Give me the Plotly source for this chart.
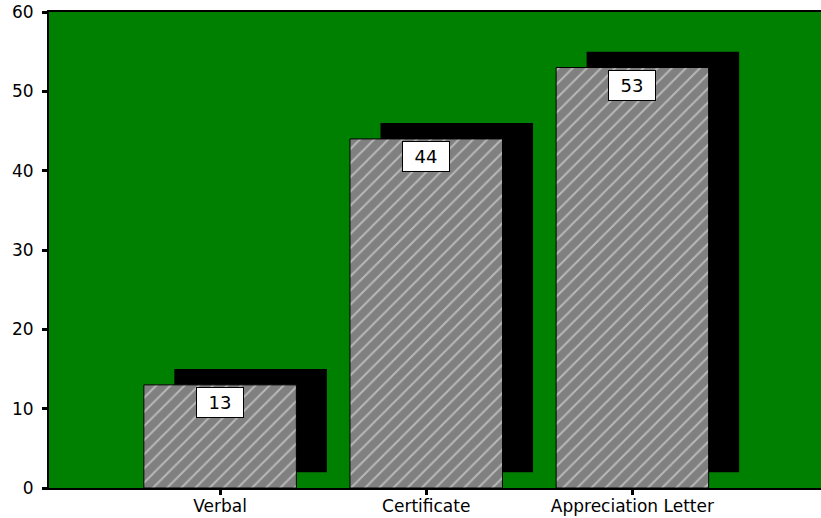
import plotly.graph_objects as go

# Award types and their counts
categories = ["Verbal", "Certificate", "Appreciation Letter"]
counts = [13, 44, 53]
y_ticks = [0, 10, 20, 30, 40, 50, 60]

positions = list(range(len(categories)))
bar_width = 0.74
shadow_dx = 0.148   # drop shadow shifted right
shadow_base = 2     # and lifted up by this many units

FONT = "DejaVu Sans, Verdana, sans-serif"

fig = go.Figure()

# Drop shadow behind each bar
fig.add_trace(go.Bar(
    x=[p + shadow_dx for p in positions],
    y=counts,
    base=[shadow_base] * len(counts),
    width=bar_width,
    marker=dict(color="black", line=dict(width=0)),
    hoverinfo="skip",
    showlegend=False,
))

# Hatched bars
fig.add_trace(go.Bar(
    x=positions,
    y=counts,
    width=bar_width,
    marker=dict(
        color="#808080",
        line=dict(color="black", width=1),
        pattern=dict(shape="/", fgcolor="#f2f2f2", bgcolor="#808080",
                     size=10, solidity=0.2, fillmode="overlay"),
    ),
    hoverinfo="skip",
    showlegend=False,
))

# Value labels in white boxes just under each bar top
for p, v in zip(positions, counts):
    fig.add_annotation(
        x=p, y=v, text=str(v), showarrow=False,
        yanchor="top", yshift=-2,
        font=dict(family=FONT, size=18, color="black"),
        bgcolor="white", bordercolor="black", borderwidth=1,
        width=40, height=23, borderpad=3,
    )

fig.update_layout(
    width=821, height=518,
    margin=dict(l=49, r=0, t=12, b=30),
    paper_bgcolor="white",
    plot_bgcolor="#008000",
    barmode="overlay",
    font=dict(family=FONT, size=16, color="black"),
    xaxis=dict(
        range=[-0.83, 2.915],
        tickvals=positions, ticktext=categories,
        showgrid=False, zeroline=False,
        showline=True, linecolor="black", linewidth=2, mirror=True,
        ticks="outside", ticklen=5, tickwidth=3, tickcolor="black",
        tickfont=dict(family=FONT, size=17),
        ticklabelstandoff=-3,
        automargin=False,
    ),
    yaxis=dict(
        range=[0, 60],
        tickvals=y_ticks,
        showgrid=False, zeroline=False,
        showline=True, linecolor="black", linewidth=2,
        ticks="outside", ticklen=5, tickwidth=3, tickcolor="black",
        tickfont=dict(family=FONT, size=17),
        ticklabelstandoff=5,
        automargin=False,
    ),
)

fig.write_html("out.html")
